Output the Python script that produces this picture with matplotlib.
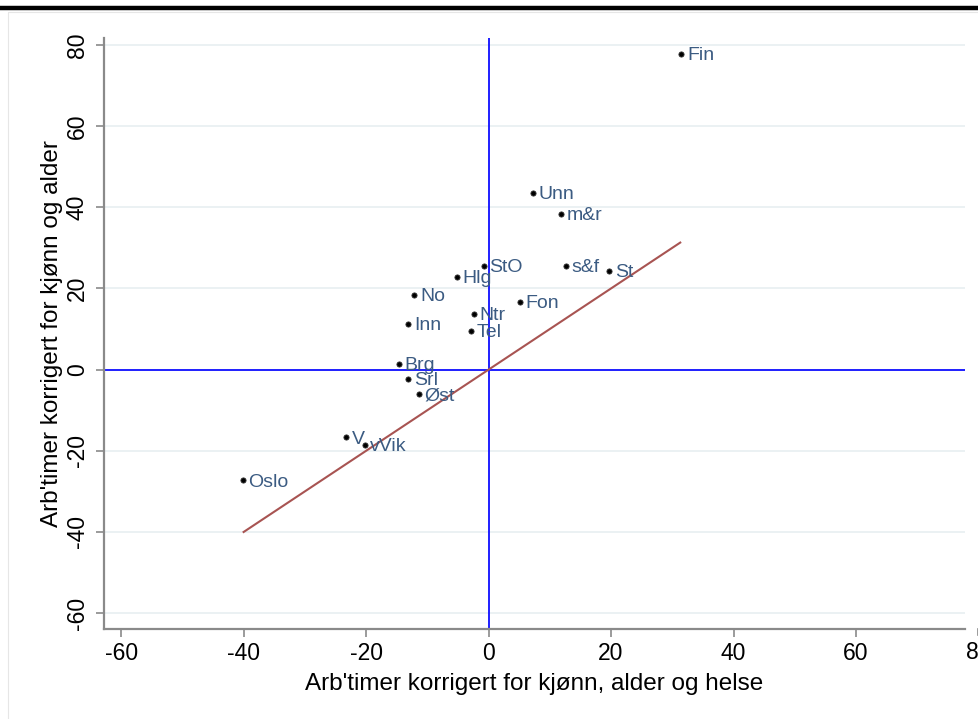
import matplotlib
matplotlib.use("Agg")
import matplotlib.pyplot as plt
from matplotlib.lines import Line2D
import matplotlib.transforms as mtransforms

# Regions and their adjusted working hours
regions = ["Fin", "Unn", "m&r", "StO", "Hlg", "s&f", "St", "No", "Fon", "Ntr",
           "Inn", "Tel", "Brg", "Srl", "Øst", "V", "vVik", "Oslo"]
x_kjonn_alder_helse = [31.5, 7.3, 11.9, -0.8, -5.2, 12.7, 19.7, -12.1, 5.1, -2.4,
                       -13.1, -2.8, -14.7, -13.1, -11.4, -23.3, -20.2, -40.1]
y_kjonn_alder = [77.8, 43.6, 38.4, 25.6, 22.9, 25.6, 24.4, 18.5, 16.7, 13.8,
                 11.3, 9.6, 1.5, -2.2, -5.9, -16.7, -18.5, -27.3]

# 45-degree reference line
diag = [-40, 31.3]

x_ticks = [-60, -40, -20, 0, 20, 40, 60]
y_ticks = [80, 60, 40, 20, 0, -20, -40, -60]

plt.rcParams["font.family"] = ["Liberation Sans", "DejaVu Sans"]

fig = plt.figure(figsize=(9.79, 7.19), dpi=100)
fig.patch.set_facecolor("white")

# outer frame and top rule
fig.add_artist(Line2D([0, 1], [1 - 8 / 719, 1 - 8 / 719], color="black", lw=3.2,
                      transform=fig.transFigure))
fig.add_artist(Line2D([8 / 979, 8 / 979, 1.0], [0, 1 - 12 / 719, 1 - 12 / 719],
                      color="#e6e6e6", lw=0.8, transform=fig.transFigure))

ax = fig.add_axes([104 / 979, 90 / 719, (965 - 104) / 979, (629 - 38) / 719])
ax.set_xlim(-62.8, 77.8)
ax.set_ylim(-63.9, 81.7)

grid_c = "#e9f0f2"
for yv in y_ticks:
    ax.axhline(yv, color=grid_c, lw=1.3, zorder=0)

ax.axhline(0, color="#1f1fff", lw=1.4, zorder=2)
ax.axvline(0, color="#1f1fff", lw=1.4, zorder=2)

ax.plot(diag, diag, color="#a85452", lw=1.5, zorder=3)

ax.scatter(x_kjonn_alder_helse, y_kjonn_alder, s=14, color="black",
           edgecolors="#333333", linewidths=0.6, zorder=4)
for name, xv, yv in zip(regions, x_kjonn_alder_helse, y_kjonn_alder):
    ax.annotate(name, (xv, yv), xytext=(4, -1.5), textcoords="offset points",
                ha="left", va="center", color="#3b5b82", fontsize=14, zorder=5)

for side in ["top", "right"]:
    ax.spines[side].set_visible(False)
for side in ["left", "bottom"]:
    ax.spines[side].set_color("#8a8a8a")
    ax.spines[side].set_linewidth(1.6)

ax.set_xticks(x_ticks)
ax.set_yticks(y_ticks)
ax.set_xticklabels([str(t) for t in x_ticks])
ax.set_yticklabels([str(t) for t in y_ticks], rotation=90, va="center")
ax.tick_params(axis="both", direction="out", length=6, width=1.2, color="#8a8a8a",
               labelsize=16.5, labelcolor="black")
ax.tick_params(axis="x", pad=3)
ax.tick_params(axis="y", pad=5)

# the 80 tick sits just past the end of the axis line
trans = mtransforms.blended_transform_factory(ax.transData, ax.transAxes)
ax.add_line(Line2D([80, 80], [0, -6 / 591], color="#8a8a8a", lw=1.2,
                   transform=trans, clip_on=False))
ax.text(80, -12 / 591, "80", transform=trans, ha="center", va="top",
        fontsize=16.5, clip_on=False)

ax.set_xlabel("Arb'timer korrigert for kjønn, alder og helse", fontsize=17.5, labelpad=6)
ax.set_ylabel("Arb'timer korrigert for kjønn og alder", fontsize=17.5, labelpad=2)

fig.savefig("out.png", dpi=100, facecolor="white")
